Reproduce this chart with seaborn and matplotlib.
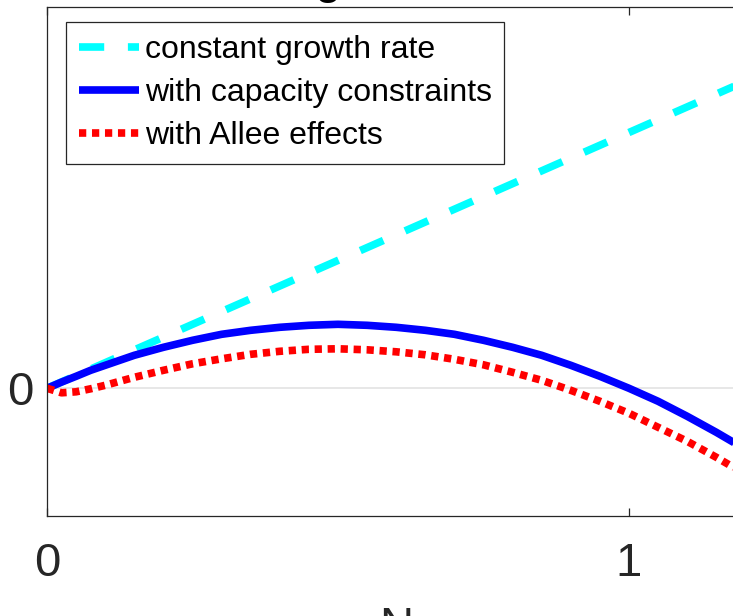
import matplotlib
matplotlib.use("Agg")
import matplotlib.pyplot as plt
import seaborn as sns
import pandas as pd

# values (y in arbitrary units, 0 = no growth)
n_const = [0.0, 1.2]
growth_const = [0.0, 3.07]

n_vals = [0.0, 0.025, 0.05, 0.075, 0.1, 0.15, 0.2, 0.25, 0.3, 0.35, 0.4, 0.45, 0.5,
          0.55, 0.6, 0.65, 0.7, 0.75, 0.8, 0.85, 0.9, 0.95, 1.0, 1.05, 1.1, 1.15, 1.2]
growth_capacity = [0.0, 0.062, 0.12, 0.18, 0.23, 0.33, 0.41, 0.48, 0.54, 0.58, 0.61, 0.63, 0.64,
                   0.63, 0.61, 0.58, 0.54, 0.48, 0.41, 0.33, 0.23, 0.12, 0.0, -0.13, -0.28, -0.44, -0.61]
growth_allee = [0.0, -0.045, -0.035, -0.005, 0.03, 0.11, 0.18, 0.245, 0.295, 0.34, 0.37, 0.39, 0.395,
                0.385, 0.365, 0.335, 0.29, 0.235, 0.16, 0.08, -0.02, -0.13, -0.25, -0.39, -0.53, -0.69, -0.86]

labels = ['constant growth rate', 'with capacity constraints', 'with Allee effects']
colors = ['#00ffff', '#0000ff', '#ff0000']

sns.set_style('white')
plt.rcParams['font.family'] = ['Liberation Sans', 'DejaVu Sans']

fig = plt.figure(figsize=(7.33, 6.16), dpi=100)
ax = fig.add_axes([47/733, 100/616, 698.4/733, 509.5/616])

df_const = pd.DataFrame({'N': n_const, 'g': growth_const})
df = pd.DataFrame({'N': n_vals, 'cap': growth_capacity, 'allee': growth_allee})

lw = 5.5
sns.lineplot(data=df_const, x='N', y='g', ax=ax, color=colors[0], lw=lw,
             linestyle=(0, (3.3, 3.1)), label=labels[0])
sns.lineplot(data=df, x='N', y='cap', ax=ax, color=colors[1], lw=lw, label=labels[1])
sns.lineplot(data=df, x='N', y='allee', ax=ax, color=colors[2], lw=lw,
             linestyle=(0, (0.95, 0.75)), label=labels[2])
for ln in ax.get_lines():
    ln.set_solid_capstyle('butt')
    ln.set_dash_capstyle('butt')

ax.set_xlim(0, 1.2)
ax.set_ylim(-1.277, 3.818)
ax.set_xticks([0, 1])
ax.set_yticks([0])
ax.grid(axis='y', color='#e3e3e3', lw=1.2)
ax.grid(axis='x', visible=False)
ax.set_axisbelow(True)

for s in ax.spines.values():
    s.set_color('#262626')
    s.set_linewidth(0.9)
ax.tick_params(axis='x', direction='in', length=6, width=0.9, top=True, bottom=True,
               labelsize=34, pad=19, colors='#262626')
ax.tick_params(axis='y', direction='in', length=0, labelsize=34, pad=10, colors='#262626')

ax.set_xlabel('N', fontsize=34, labelpad=14, color='#262626')
ax.set_ylabel('')

# title sits above the visible canvas, only the descender shows
fig.text(390/733, 1.0093, 'Net growth rate', ha='center', va='baseline',
         fontsize=30, weight='bold', color='black')

leg = ax.legend(loc='upper left', bbox_to_anchor=(66/733, 1 - 22/616),
                bbox_transform=fig.transFigure, borderaxespad=0,
                fontsize=23, frameon=True, fancybox=False, framealpha=1,
                edgecolor='#262626', handlelength=1.9, handletextpad=0.16,
                borderpad=0.4, labelspacing=0.41)
leg.get_frame().set_linewidth(0.9)
for t in leg.get_texts():
    t.set_color('black')

fig.savefig('out.png', dpi=100)
